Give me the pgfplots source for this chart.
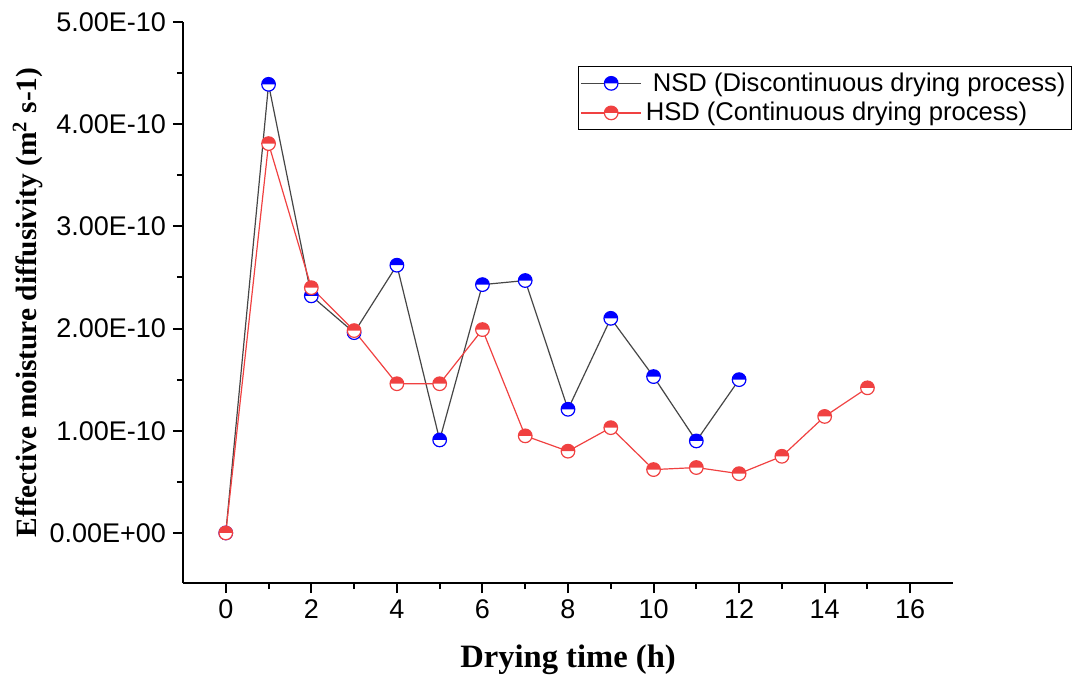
\documentclass[border=0pt]{standalone}
\usepackage{fontspec}
\setmainfont{Liberation Sans}
\newfontfamily\timesfont{Liberation Serif}
\usepackage{pgfplots}
\pgfplotsset{compat=1.18}

\definecolor{nsdblue}{RGB}{0,0,255}
\definecolor{nsdline}{RGB}{70,70,70}
\definecolor{hsdred}{RGB}{240,65,65}

% circle with white lower half and coloured upper half
\pgfdeclareplotmark{halfup}{%
  \begin{pgfscope}
    \pgfsetfillcolor{white}
    \pgfpathcircle{\pgfpointorigin}{\pgfplotmarksize}
    \pgfusepathqfill
  \end{pgfscope}
  \pgfpathmoveto{\pgfqpoint{\pgfplotmarksize}{0pt}}
  \pgfpatharc{0}{180}{\pgfplotmarksize}
  \pgfpathclose
  \pgfusepathqfill
  \pgfpathcircle{\pgfpointorigin}{\pgfplotmarksize}
  \pgfusepathqstroke
}

\begin{document}
\begin{tikzpicture}
\begin{axis}[
    scale only axis,
    width=385pt, height=280.5pt,
    at={(0,0)}, anchor=south west,
    xmin=-1, xmax=17,
    ymin=-0.49, ymax=5,
    axis x line*=bottom, axis y line*=left,
    axis line style={line width=1pt},
    tick align=outside,
    major tick length=5pt, minor tick length=3pt,
    tick style={line width=1pt, black},
    xtick={0,2,...,16}, minor x tick num=1,
    ytick={0,1,2,3,4,5}, minor y tick num=1,
    yticklabels={0.00E+00,1.00E-10,2.00E-10,3.00E-10,4.00E-10,5.00E-10},
    /pgf/number format/assume math mode=true,
    tick label style={font=\fontsize{13.5}{15}\selectfont},
    xlabel={Drying time (h)},
    ylabel={Effective moisture diffusivity (m\textsuperscript{2} s-1)},
    xlabel style={font=\timesfont\bfseries\fontsize{16.3}{18}\selectfont,
        at={(axis description cs:0.5,-0.137)}, anchor=center},
    ylabel style={font=\timesfont\bfseries\fontsize{14.7}{17}\selectfont,
        at={(axis description cs:-0.2013,0.5)}, anchor=center},
    legend style={at={(axis description cs:0.513,0.9216)}, anchor=north west,
        draw=black, line width=0.6pt, fill=white, inner sep=1pt,
        font=\fontsize{12.8}{15}\selectfont, row sep=0pt,
        /tikz/every even column/.append style={column sep=0pt}},
    legend cell align=left,
    legend image code/.code={\draw[mark repeat=2,mark phase=2,#1] plot coordinates {(0pt,0pt)(15pt,0pt)(30pt,0pt)};},
    clip=false,
]
\addplot[color=nsdline, line width=0.6pt, mark=halfup, mark size=3.4pt,
    mark options={draw=nsdblue, fill=nsdblue, line width=0.6pt}] coordinates {
(0,0) (1,4.39) (2,2.32) (3,1.96) (4,2.62) (5,0.91) (6,2.43) (7,2.47)
(8,1.21) (9,2.10) (10,1.53) (11,0.90) (12,1.50)
};
\addlegendentry{\ NSD (Discontinuous drying process)}
\addplot[color=hsdred, line width=0.6pt, mark=halfup, mark size=3.4pt,
    mark options={draw=hsdred, fill=hsdred, line width=0.6pt}] coordinates {
(0,0) (1,3.81) (2,2.40) (3,1.98) (4,1.46) (5,1.46) (6,1.99) (7,0.95)
(8,0.80) (9,1.03) (10,0.62) (11,0.64) (12,0.58) (13,0.75) (14,1.14) (15,1.42)
};
\addlegendentry{HSD (Continuous drying process)}
\end{axis}
\pgfresetboundingbox
\path (-91.5pt,-47pt) rectangle (447.5pt,291.5pt);
\end{tikzpicture}
\end{document}
